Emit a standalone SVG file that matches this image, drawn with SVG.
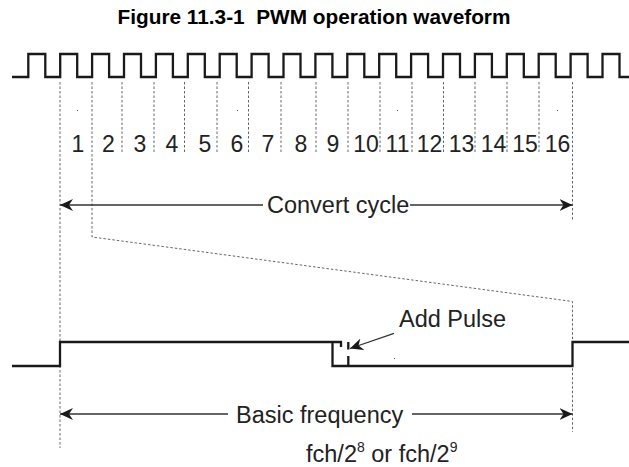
<svg xmlns="http://www.w3.org/2000/svg" width="629" height="467" viewBox="0 0 629 467">
<style>
.t{font-family:"Liberation Sans",Arial,sans-serif;fill:#222}
.title{font-weight:bold;font-size:20.8px;fill:#000;white-space:pre}
.lbl{font-size:23.5px}
.num{font-size:23px;text-anchor:middle}
.wave{fill:none;stroke:#1a1a1a;stroke-width:2.3;stroke-linejoin:miter}
.dash{fill:none;stroke:#666;stroke-width:1;stroke-dasharray:2.5,2}
.arr{fill:none;stroke:#333;stroke-width:1.3}
</style>
<defs>
<marker id="ah" viewBox="0 -6 13 12" refX="13" refY="0" markerWidth="13" markerHeight="12" markerUnits="userSpaceOnUse" orient="auto-start-reverse">
<path d="M0,-6 L13,0 L0,6 L4,0 Z" fill="#1a1a1a"/>
</marker>
</defs>
<text class="t title" x="314" y="24" text-anchor="middle" xml:space="preserve">Figure 11.3-1  PWM operation waveform</text>
<g id="clock">
<path class="wave" d="M12,77 H28.3 V54 H45.3 V77 H60.2 V54 H77.2 V77 H92.1 V54 H109.1 V77 H124 V54 H141 V77 H155.9 V54 H172.9 V77 H187.8 V54 H204.8 V77 H219.7 V54 H236.7 V77 H251.6 V54 H268.6 V77 H283.5 V54 H300.5 V77 H315.4 V54 H332.4 V77 H347.3 V54 H364.3 V77 H379.2 V54 H396.2 V77 H411.1 V54 H428.1 V77 H443 V54 H460 V77 H474.9 V54 H491.9 V77 H506.8 V54 H523.8 V77 H538.7 V54 H555.7 V77 H570.6 V54 H587.6 V77 H602.5 V54 H619.5 V77 H629"/>
</g>
<g id="guides">
<path class="dash" d="M60,82 V448 M92,82 V237 L572.5,301.5 V432 M572.5,82 V220 M122,82 V152 M154,82 V152 M184.5,82 V152 M217,82 V152 M248.5,82 V152 M281,82 V152 M316,82 V152 M348,82 V152 M380,82 V152 M412,82 V152 M443.5,82 V152 M475,82 V152 M507,82 V152 M539,82 V152"/>
<g fill="#555">
<rect x="77" y="110" width="1" height="1"/>
<rect x="237" y="110" width="1" height="1"/>
<rect x="397" y="110" width="1" height="1"/>
<rect x="557" y="110" width="1" height="1"/>
<rect x="394" y="358" width="1" height="1"/>
</g>
</g>
<g id="counts" class="t num">
<text x="78" y="152">1</text>
<text x="108.5" y="152">2</text>
<text x="140" y="152">3</text>
<text x="172" y="152">4</text>
<text x="205" y="152">5</text>
<text x="237" y="152">6</text>
<text x="268" y="152">7</text>
<text x="301" y="152">8</text>
<text x="333" y="152">9</text>
<text x="366" y="152">10</text>
<text x="397.5" y="152">11</text>
<text x="429.5" y="152">12</text>
<text x="461.5" y="152">13</text>
<text x="493.5" y="152">14</text>
<text x="525" y="152">15</text>
<text x="557.5" y="152">16</text>
</g>
<g id="convert-cycle">
<line class="arr" x1="263" y1="205" x2="60" y2="205" marker-end="url(#ah)"/>
<line class="arr" x1="410" y1="205" x2="572.5" y2="205" marker-end="url(#ah)"/>
<text class="t lbl" x="267" y="213">Convert cycle</text>
</g>
<g id="pwm">
<path class="wave" d="M12,366 H60 V342 H341 V347 M332.5,342 V366 H572.5 V342 H629"/>
<path class="wave" d="M348.3,342 V349.5 M348.3,356 V366" stroke-width="2"/>
</g>
<g id="add-pulse">
<line class="arr" x1="394" y1="333.3" x2="350" y2="348.5" marker-end="url(#ah)"/>
<text class="t lbl" x="399" y="327">Add Pulse</text>
</g>
<g id="basic-frequency">
<line class="arr" x1="228" y1="414" x2="60" y2="414" marker-end="url(#ah)"/>
<line class="arr" x1="412" y1="414" x2="572.5" y2="414" marker-end="url(#ah)"/>
<text class="t lbl" x="236" y="422.5">Basic frequency</text>
<text class="t lbl" x="306" y="462">fch/2<tspan font-size="14" dy="-10">8</tspan><tspan dy="10"> or fch/2</tspan><tspan font-size="14" dy="-10">9</tspan></text>
</g>
</svg>
